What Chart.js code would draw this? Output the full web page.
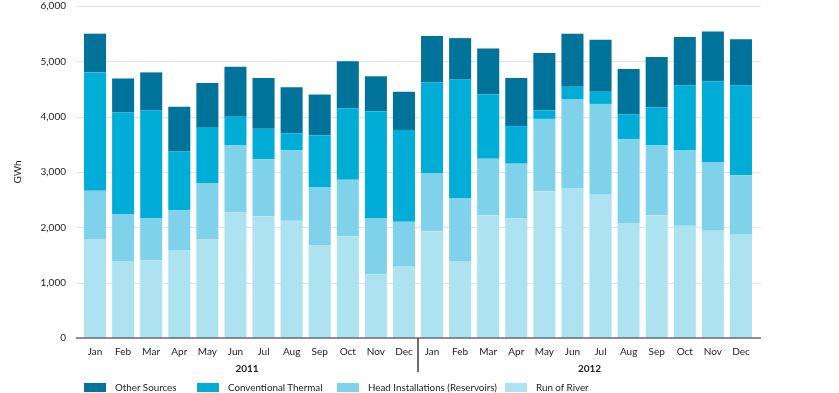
<!DOCTYPE html>
<html>
<head>
<meta charset="utf-8">
<script src="https://cdn.jsdelivr.net/npm/chart.js@4"></script>
<style>
    html, body { margin: 0; padding: 0; background: #fff; }
    .wrap { position: relative; width: 839px; height: 393px; font-family: Lato, sans-serif; }
    canvas { position: absolute; left: 0; top: 0; }
    .legend .item { position: absolute; top: 381px; display: flex; align-items: center; font-size: 9.8px; color: #222; line-height: 12px; white-space: nowrap; }
    .legend .swatch { width: 22px; height: 9px; margin-right: 9px; }
</style>
</head>
<body>
<div class="wrap">
    <canvas id="genChart" width="839" height="393"></canvas>
    <div class="legend" id="legend"></div>
</div>
<script>
// 월별 카테고리 (2011, 2012)
const months = ['Jan', 'Feb', 'Mar', 'Apr', 'May', 'Jun', 'Jul', 'Aug', 'Sep', 'Oct', 'Nov', 'Dec',
                'Jan', 'Feb', 'Mar', 'Apr', 'May', 'Jun', 'Jul', 'Aug', 'Sep', 'Oct', 'Nov', 'Dec'];
const years = ['2011', '2012'];

// 발전원별 생산량 (GWh)
const runOfRiver = [1790, 1390, 1400, 1590, 1780, 2270, 2200, 2120, 1680, 1840, 1150, 1300,
                    1930, 1390, 2220, 2160, 2650, 2710, 2590, 2080, 2220, 2030, 1940, 1880];
const headInstallations = [870, 850, 760, 720, 1020, 1210, 1030, 1270, 1050, 1020, 1020, 800,
                           1050, 1140, 1020, 990, 1310, 1600, 1640, 1510, 1260, 1360, 1240, 1060];
const conventionalThermal = [2140, 1840, 1950, 1060, 1000, 520, 550, 310, 930, 1290, 1930, 1660,
                             1640, 2140, 1160, 680, 150, 230, 220, 450, 690, 1180, 1460, 1630];
const otherSources = [700, 610, 690, 810, 810, 900, 920, 830, 740, 850, 630, 690,
                      840, 750, 830, 870, 1040, 960, 940, 820, 910, 870, 900, 830];

// y축 눈금
const yTicks = [0, 1000, 2000, 3000, 4000, 5000, 6000];

const FONT = 'Lato, sans-serif';
const FONT_SIZE = 10;
// 범례 항목 x 위치 (왼쪽부터)
const LEGEND_X = [84, 197, 337, 505];

class GenerationChart {
    constructor() {
        this.series = [
            { label: 'Run of River', data: runOfRiver, color: '#ade3f1' },
            { label: 'Head Installations (Reservoirs)', data: headInstallations, color: '#80d2ea' },
            { label: 'Conventional Thermal', data: conventionalThermal, color: '#00add7' },
            { label: 'Other Sources', data: otherSources, color: '#00739a' }
        ];
        this.drawChart();
        this.drawLegend();
    }

    // 그리드, x축선, 연도 구분선 그리기
    decorPlugin() {
        return {
            id: 'decor',
            beforeDatasetsDraw(chart) {
                const { ctx, chartArea, scales: { y } } = chart;
                ctx.save();
                ctx.strokeStyle = '#dbe4ed';
                ctx.lineWidth = 1;
                yTicks.forEach(t => {
                    if (t === 0) return;
                    const py = Math.round(y.getPixelForValue(t)) + 0.5;
                    ctx.beginPath();
                    ctx.moveTo(chartArea.left - 5, py);
                    ctx.lineTo(chartArea.right + 6, py);
                    ctx.stroke();
                });
                ctx.restore();
            },
            afterDatasetsDraw(chart) {
                const { ctx, chartArea, scales: { x, y } } = chart;
                const base = y.getPixelForValue(0);
                const left = chartArea.left - 5;
                const right = chartArea.right + 6;
                const sepX = (x.getPixelForValue(11) + x.getPixelForValue(12)) / 2;
                ctx.save();
                ctx.strokeStyle = '#6a6a6a';
                ctx.lineWidth = 1.5;
                ctx.beginPath();
                ctx.moveTo(left, base);
                ctx.lineTo(right, base);
                ctx.stroke();

                ctx.strokeStyle = '#3c3c3c';
                ctx.beginPath();
                ctx.moveTo(sepX, base);
                ctx.lineTo(sepX, base + 34);
                ctx.stroke();

                ctx.fillStyle = '#222';
                ctx.font = `bold ${FONT_SIZE}px ${FONT}`;
                ctx.textAlign = 'center';
                ctx.textBaseline = 'middle';
                ctx.fillText(years[0], (left + sepX) / 2, base + 31);
                ctx.fillText(years[1], (sepX + right) / 2, base + 31);
                ctx.restore();
            }
        };
    }

    drawChart() {
        const ctx = document.getElementById('genChart').getContext('2d');
        new Chart(ctx, {
            type: 'bar',
            data: {
                labels: months,
                datasets: this.series.map(s => ({
                    label: s.label,
                    data: s.data,
                    backgroundColor: s.color,
                    borderWidth: 0,
                    barPercentage: 0.785,
                    categoryPercentage: 1
                }))
            },
            options: {
                responsive: false,
                animation: false,
                layout: { padding: { top: 6, right: 84, left: 0, bottom: 0 } },
                plugins: {
                    legend: { display: false },
                    tooltip: { enabled: true }
                },
                scales: {
                    x: {
                        stacked: true,
                        offset: true,
                        grid: { display: false, drawTicks: false },
                        border: { display: false },
                        ticks: {
                            color: '#222',
                            font: { family: FONT, size: FONT_SIZE },
                            padding: 8,
                            maxRotation: 0,
                            autoSkip: false
                        },
                        afterFit: scale => { scale.height = 55; }
                    },
                    y: {
                        stacked: true,
                        min: yTicks[0],
                        max: yTicks[yTicks.length - 1],
                        afterBuildTicks: scale => { scale.ticks = yTicks.map(v => ({ value: v })); },
                        grid: { display: false, drawTicks: false },
                        border: { display: false },
                        ticks: {
                            color: '#222',
                            font: { family: FONT, size: FONT_SIZE },
                            padding: 15,
                            callback: v => v.toLocaleString('en-US')
                        },
                        title: {
                            display: true,
                            text: 'GWh',
                            color: '#222',
                            font: { family: FONT, size: FONT_SIZE },
                            padding: { top: 12, bottom: 0 }
                        },
                        afterFit: scale => {
                            scale.width = 81;
                            scale.paddingTop = 0;
                            scale.paddingBottom = 0;
                        }
                    }
                }
            },
            plugins: [this.decorPlugin()]
        });
    }

    // 범례는 위에서부터 쌓인 순서대로 표시
    drawLegend() {
        const legend = document.getElementById('legend');
        legend.innerHTML = this.series.slice().reverse().map((s, i) => `
            <div class="item" style="left:${LEGEND_X[i]}px"><span class="swatch" style="background:${s.color}"></span><span>${s.label}</span></div>
        `).join('');
    }
}

document.addEventListener('DOMContentLoaded', () => {
    new GenerationChart();
});
</script>
</body>
</html>
